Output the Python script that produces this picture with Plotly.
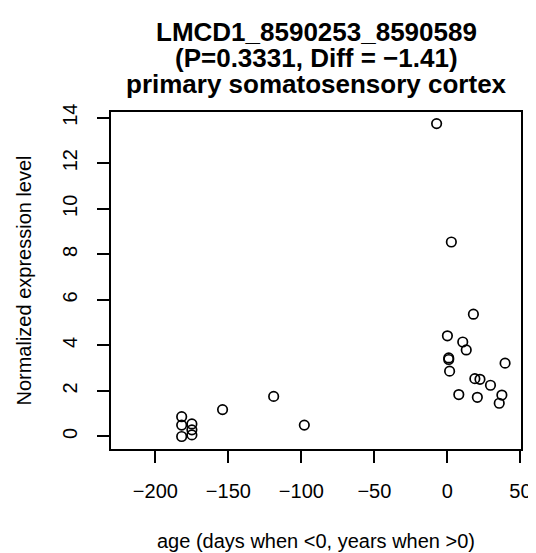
import plotly.graph_objects as go

# ages (days when <0, years when >0) and normalized expression
idade = [-182, -182, -182, -175, -175, -175, -154, -119, -98,
         -7.4, 2.7, 17.8, 0.0, 10.5, 12.9, 0.9, 0.9, 1.5, 39.5,
         18.8, 22.3, 29.5, 7.8, 20.5, 37.3, 35.5]
expressao = [0.87, 0.50, 0.0, 0.55, 0.29, 0.07, 1.18, 1.76, 0.50,
             13.74, 8.54, 5.37, 4.42, 4.15, 3.80, 3.45, 3.38, 2.87, 3.22,
             2.54, 2.51, 2.25, 1.84, 1.72, 1.82, 1.46]

x_ticks = [-200, -150, -100, -50, 0, 50]
x_tick_labels = ['\u2212200', '\u2212150', '\u2212100', '\u221250', '0', '50']
y_ticks = [0, 2, 4, 6, 8, 10, 12, 14]

titulo = ['LMCD1_8590253_8590589',
          '(P=0.3331, Diff = \u22121.41)',
          'primary somatosensory cortex']

fonte = 'Liberation Sans, Arial, sans-serif'

fig = go.Figure()
fig.add_trace(go.Scatter(
    x=idade, y=expressao, mode='markers',
    marker=dict(symbol='circle-open', size=9.5, color='black',
                line=dict(width=1.7, color='black')),
    showlegend=False))

# Cria o layout
fig.update_layout(
    width=536, height=553,
    margin=dict(l=103, r=13, t=104, b=107),
    paper_bgcolor='white', plot_bgcolor='white',
    font=dict(family=fonte, size=20, color='black'),
)
fig.update_xaxes(
    range=[-230.4, 50.4], tickvals=x_ticks, ticktext=x_tick_labels,
    showgrid=False, zeroline=False, showline=True, mirror=True,
    linecolor='black', linewidth=1.6,
    ticks='outside', ticklen=12, tickwidth=1.6, tickcolor='black',
    ticklabelstandoff=11,
    title=dict(text='age (days when <0, years when >0)', standoff=33,
               font=dict(size=20)))
fig.update_yaxes(
    range=[-0.55, 14.25], tickvals=y_ticks, tickangle=-90,
    showgrid=False, zeroline=False, showline=True, mirror=True,
    linecolor='black', linewidth=1.6,
    ticks='outside', ticklen=12, tickwidth=1.6, tickcolor='black',
    ticklabelstandoff=12,
    title=dict(text='Normalized expression level', standoff=22,
               font=dict(size=20)))

# Titulo em tres linhas
alturas = [22.5, 49, 75.5]
for linha, yp in zip(titulo, alturas):
    fig.add_annotation(
        text='<b>' + linha + '</b>', xref='paper', yref='paper',
        x=0.5, y=1 + (104 - yp) / 342, xanchor='center', yanchor='middle',
        showarrow=False, font=dict(family=fonte, size=26, color='black'))

fig.write_html('out.html')
